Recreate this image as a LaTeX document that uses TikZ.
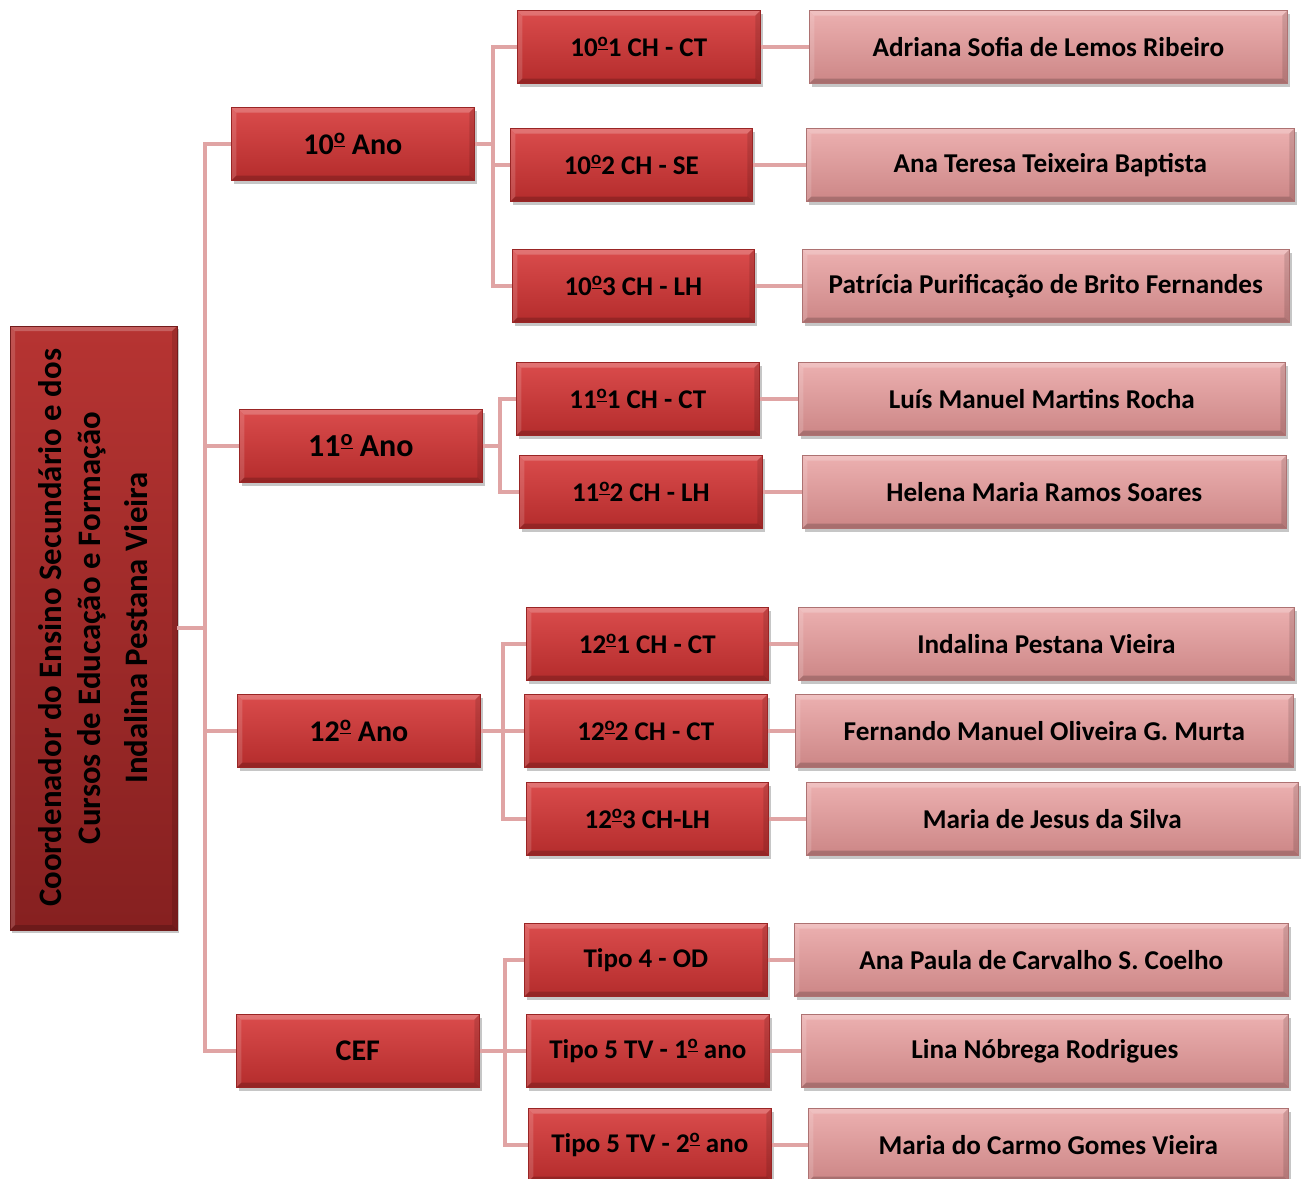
\documentclass[tikz,border=0pt]{standalone}
\usepackage{fontspec}
\setmainfont{Carlito}
\usetikzlibrary{shadows}

\definecolor{redtop}{RGB}{218,76,76}
\definecolor{redbot}{RGB}{180,44,44}
\definecolor{pinktop}{RGB}{236,176,176}
\definecolor{pinkbot}{RGB}{204,134,134}
\definecolor{roottop}{RGB}{182,52,50}
\definecolor{rootbot}{RGB}{134,32,32}
\definecolor{linkpink}{RGB}{224,164,164}

% ordinal sign with underline
\newcommand{\ordm}{\raisebox{0.72ex}{\scalebox{0.7}{\underline{o}}}}

\tikzset{
  bevel/.style={path picture={
    \fill[white, opacity=0.22] (path picture bounding box.north west)
      -- (path picture bounding box.north east)
      -- ([xshift=-2.5pt, yshift=-2.5pt]path picture bounding box.north east)
      -- ([xshift=2.5pt, yshift=-2.5pt]path picture bounding box.north west) -- cycle;
    \fill[white, opacity=0.15] (path picture bounding box.north west)
      -- ([xshift=2.5pt, yshift=-2.5pt]path picture bounding box.north west)
      -- ([xshift=2.5pt, yshift=2.5pt]path picture bounding box.south west)
      -- (path picture bounding box.south west) -- cycle;
    \fill[black, opacity=0.18] (path picture bounding box.south west)
      -- (path picture bounding box.south east)
      -- ([xshift=-2.5pt, yshift=2.5pt]path picture bounding box.south east)
      -- ([xshift=2.5pt, yshift=2.5pt]path picture bounding box.south west) -- cycle;
    \fill[black, opacity=0.12] (path picture bounding box.north east)
      -- ([xshift=-2.5pt, yshift=-2.5pt]path picture bounding box.north east)
      -- ([xshift=-2.5pt, yshift=2.5pt]path picture bounding box.south east)
      -- (path picture bounding box.south east) -- cycle;}},
  box/.style={rectangle, inner sep=0pt, text=black, bevel,
    drop shadow={opacity=0.45, shadow xshift=1.2pt, shadow yshift=-1.6pt}},
  redbox/.style={box, top color=redtop, bottom color=redbot,
    draw=redbot!85!black, line width=0.3pt, minimum height=36.5pt},
  pinkbox/.style={box, top color=pinktop, bottom color=pinkbot,
    draw=pinkbot!85!black, line width=0.3pt, minimum height=36.5pt,
    font=\fontsize{13.6}{15}\selectfont\bfseries},
  rootbox/.style={box, top color=roottop, bottom color=rootbot,
    draw=rootbot!85!black, line width=0.3pt},
  link/.style={linkpink, line width=2pt}
}

\begin{document}
\begin{tikzpicture}[x=0.5pt, y=-0.5pt]
  \useasboundingbox (0,0) rectangle (1301,1178);
  \clip (0,0) rectangle (1301,1178);

  % root
  \node[rootbox, minimum width=83.5pt, minimum height=302pt] (root) at (93.5,628) {};
  \node[rotate=90, align=center, font=\fontsize{16.4}{19.5}\selectfont\bfseries]
    (root-txt) at (root.center)
    {Coordenador do Ensino Secundário e dos\\Cursos de Educação e Formação\\[4pt]Indalina Pestana Vieira};
  \coordinate (trunk) at (205,628);
  \draw[link] (root.east) -- (trunk);

  % years
  \foreach \id/\xa/\xb/\y/\bx/\fs/\txt in {
      ano10/231/474/144/493/15/{10\ordm{} Ano},
      ano11/239/482/446/500/16/{11\ordm{} Ano},
      ano12/237/480/731/503/15/{12\ordm{} Ano},
      cef/236/479/1051/505/15/{CEF}}
  {
    \node[redbox, anchor=west, minimum width={(\xb-\xa)*0.5pt},
      font=\fontsize{\fs}{\fs}\selectfont\bfseries] (\id) at (\xa,\y) {\txt};
    \coordinate (bus-\id) at (\bx,\y);
    \draw[link] (trunk) |- (\id.west);
    \draw[link] (\id.east) -- (bus-\id);
  }

  % classes and directors
  \foreach \id/\up/\xa/\xb/\y/\cls/\pa/\pb/\who in {
      c101/ano10/517/760/47/{10\ordm{}1 CH - CT}/809/1287/{Adriana Sofia de Lemos Ribeiro},
      c102/ano10/510/752/165/{10\ordm{}2 CH - SE}/806/1294/{Ana Teresa Teixeira Baptista},
      c103/ano10/512/754/286/{10\ordm{}3 CH - LH}/802/1289/{Patrícia Purificação de Brito Fernandes},
      c111/ano11/516/759/399/{11\ordm{}1 CH - CT}/798/1285/{Luís Manuel Martins Rocha},
      c112/ano11/519/762/492/{11\ordm{}2 CH - LH}/802/1286/{Helena Maria Ramos Soares},
      c121/ano12/526/768/644/{12\ordm{}1 CH - CT}/798/1294/{Indalina Pestana Vieira},
      c122/ano12/524/767/731/{12\ordm{}2 CH - CT}/795/1293/{Fernando Manuel Oliveira G. Murta},
      c123/ano12/526/768/819/{12\ordm{}3 CH-LH}/806/1298/{Maria de Jesus da Silva},
      t4/cef/524/767/960/{Tipo 4 - OD}/794/1288/{Ana Paula de Carvalho S. Coelho},
      t51/cef/526/769/1051/{Tipo 5 TV - 1\ordm{} ano}/801/1288/{Lina Nóbrega Rodrigues},
      t52/cef/528/771/1145/{Tipo 5 TV - 2\ordm{} ano}/808/1288/{Maria do Carmo Gomes Vieira}}
  {
    \node[redbox, anchor=west, minimum width={(\xb-\xa)*0.5pt},
      font=\fontsize{13.5}{15}\selectfont\bfseries] (\id) at (\xa,\y) {\cls};
    \node[pinkbox, anchor=west, minimum width={(\pb-\pa)*0.5pt}] (\id-n) at (\pa,\y) {\who};
    \draw[link] (bus-\up) |- (\id.west);
    \draw[link] (\id.east) -- (\id-n.west);
  }
\end{tikzpicture}
\end{document}
